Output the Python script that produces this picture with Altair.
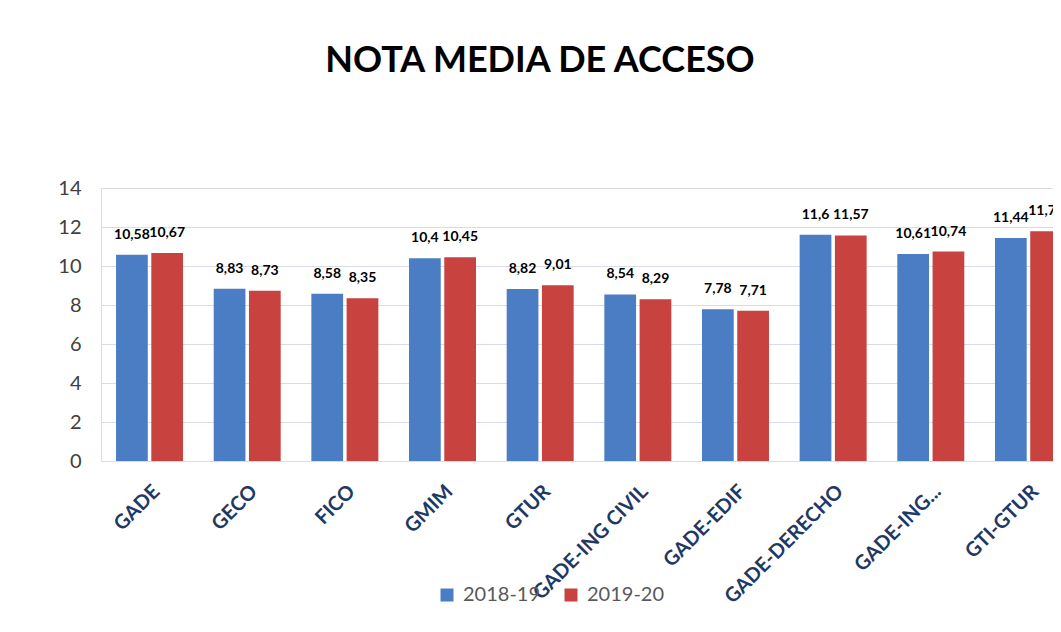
import altair as alt
import pandas as pd

categories = ["GADE", "GECO", "FICO", "GMIM", "GTUR", "GADE-ING CIVIL",
              "GADE-EDIF", "GADE-DERECHO", "GADE-ING...", "GTI-GTUR"]
series = ["2018-19", "2019-20"]
v2018 = [10.58, 8.83, 8.58, 10.4, 8.82, 8.54, 7.78, 11.6, 10.61, 11.44]
v2019 = [10.67, 8.73, 8.35, 10.45, 9.01, 8.29, 7.71, 11.57, 10.74, 11.78]
colors = ["#4A7DC4", "#C8423F"]
y_ticks = [0, 2, 4, 6, 8, 10, 12, 14]

rows = []
for c, a, b in zip(categories, v2018, v2019):
    rows.append({"cat": c, "serie": series[0], "valor": a})
    rows.append({"cat": c, "serie": series[1], "valor": b})
df = pd.DataFrame(rows)

FONT = "Lato"

x = alt.X(
    "cat:N", sort=categories, title=None,
    scale=alt.Scale(range=[0, 976], paddingInner=0.314, paddingOuter=0.154),
    axis=alt.Axis(labelAngle=-45, labelFont=FONT, labelFontWeight="bold",
                  labelFontSize=20, labelColor="#203864", ticks=False,
                  domain=False, labelPadding=20, labelLimit=300, grid=False),
)
xoff = alt.XOffset("serie:N", sort=series, scale=alt.Scale(paddingInner=0.1))
y = alt.Y(
    "valor:Q", title=None, scale=alt.Scale(domain=[0, 14]),
    axis=alt.Axis(values=y_ticks, labelFontSize=20, labelColor="#404040",
                  labelFont=FONT, ticks=False, domain=False, labelPadding=20,
                  gridColor="#D9DCE8", gridWidth=1),
)
color = alt.Color(
    "serie:N", sort=series,
    scale=alt.Scale(domain=series, range=colors),
    legend=alt.Legend(orient="none", legendX=336, legendY=397,
                      direction="horizontal", title=None, symbolType="square",
                      symbolSize=169, labelFontSize=20, labelFont=FONT,
                      labelColor="#595959", columnPadding=20, labelOffset=6,
                      symbolStrokeWidth=0, symbolOpacity=1),
)

base = alt.Chart(df).encode(x=x, xOffset=xoff, y=y)

bars = base.mark_bar(clip=True).encode(color=color)
labels = base.transform_calculate(
    label="replace(toString(datum.valor), '.', ',')"
).mark_text(clip=True, dy=-16, baseline="alphabetic", fontWeight="bold",
            fontSize=14, font=FONT, color="#000000").encode(text="label:N")

chart = alt.layer(bars, labels).properties(
    width=952, height=273,
    title=alt.TitleParams("NOTA MEDIA DE ACCESO", font=FONT, fontSize=36,
                          fontWeight="bold", color="#000000", anchor="middle",
                          dx=-37, offset=98),
    autosize=alt.AutoSizeParams(type="none"),
    padding={"left": 93, "top": 180, "right": 0, "bottom": 170},
).configure_view(stroke=None).configure(background="#FFFFFF")

chart.save("out.html", embed_options={"renderer": "svg", "actions": False})
